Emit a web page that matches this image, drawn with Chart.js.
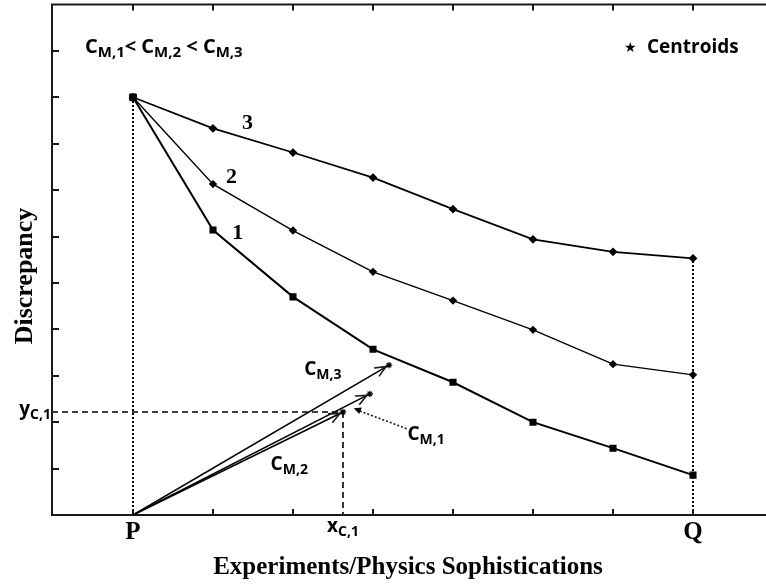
<!DOCTYPE html>
<html>
<head>
<meta charset="utf-8">
<script src="https://cdn.jsdelivr.net/npm/chart.js@4/dist/chart.umd.min.js"></script>
<style>
  html, body { margin: 0; padding: 0; background: #ffffff; }
  #wrap { width: 766px; height: 588px; }
</style>
</head>
<body>
<div id="wrap"><canvas id="chart" width="766" height="588"></canvas></div>
<script>
// Stages along the horizontal axis (P = 0 ... Q = 7)
const steps = [0, 1, 2, 3, 4, 5, 6, 7];
const endLabels = ['P', 'Q'];

// Discrepancy of the three model curves
const curve1 = [9.0, 6.14, 4.70, 3.57, 2.86, 2.00, 1.44, 0.86];
const curve2 = [9.0, 7.13, 6.13, 5.24, 4.62, 3.99, 3.25, 3.02];
const curve3 = [9.0, 8.33, 7.81, 7.27, 6.59, 5.94, 5.67, 5.53];

// Centroids reached by the C_M vectors (index 0 -> C_M,1 ...)
const centroidX = [2.625, 2.96, 3.20];
const centroidY = [2.22, 2.61, 3.23];

// Axis tick values (unlabelled)
const xTicks = [0, 1, 2, 3, 4, 5, 6, 7];
const yTicks = [1, 2, 3, 4, 5, 6, 7, 8, 9, 10];

const X_MIN = -1.0125, X_MAX = 7.9125, Y_MIN = 0, Y_MAX = 11;

const pts = (xs, ys) => xs.map((x, i) => ({ x: x, y: ys[i] }));

const black = '#000000';

const datasets = [
  { data: pts(steps, curve1), borderColor: black, backgroundColor: black, borderWidth: 2,
    pointStyle: 'rect', pointRadius: 3.6, tension: 0 },
  { data: pts(steps, curve2), borderColor: black, backgroundColor: black, borderWidth: 1.4,
    pointStyle: 'rectRot', pointRadius: 3.2, tension: 0 },
  { data: pts(steps, curve3), borderColor: black, backgroundColor: black, borderWidth: 1.7,
    pointStyle: 'rectRot', pointRadius: 3.2, tension: 0 },
  // common starting point
  { data: [{ x: steps[0], y: curve1[0] }], borderColor: black, backgroundColor: black,
    pointStyle: 'rect', pointRadius: 4.6, showLine: false },
  // dotted drop lines at P and Q
  { data: [{ x: steps[0], y: Y_MIN }, { x: steps[0], y: curve1[0] }], borderColor: black,
    borderWidth: 2, borderDash: [2, 2], pointRadius: 0 },
  { data: [{ x: steps[7], y: Y_MIN }, { x: steps[7], y: curve3[7] }], borderColor: black,
    borderWidth: 2, borderDash: [2, 2], pointRadius: 0 },
  // dashed projection of centroid 1 onto both axes
  { data: [{ x: X_MIN, y: centroidY[0] }, { x: centroidX[0], y: centroidY[0] }], borderColor: black,
    borderWidth: 1.6, borderDash: [6, 4], pointRadius: 0 },
  { data: [{ x: centroidX[0], y: centroidY[0] }, { x: centroidX[0], y: Y_MIN }], borderColor: black,
    borderWidth: 1.6, borderDash: [6, 4], pointRadius: 0 },
  // vector shafts from P
  ...centroidX.map((cx, i) => ({
    data: [{ x: steps[0], y: Y_MIN }, { x: cx, y: centroidY[i] }], borderColor: black,
    borderWidth: 1.6, pointRadius: 0
  })),
  // centroid markers
  { data: pts(centroidX, centroidY), borderColor: black, backgroundColor: black, borderWidth: 1.2,
    pointStyle: 'star', pointRadius: 3.2, showLine: false }
];

function sub(ctx, x, y, main, subscript, mainFont, subFont, align) {
  ctx.font = mainFont;
  const w1 = ctx.measureText(main).width;
  ctx.font = subFont;
  const w2 = ctx.measureText(subscript).width;
  let x0 = x;
  if (align === 'center') x0 = x - (w1 + w2) / 2;
  else if (align === 'right') x0 = x - (w1 + w2);
  ctx.textAlign = 'left';
  ctx.textBaseline = 'alphabetic';
  ctx.font = mainFont;
  ctx.fillText(main, x0, y);
  ctx.font = subFont;
  ctx.fillText(subscript, x0 + w1, y + 4);
  return x0 + w1 + w2;
}

function arrowHead(ctx, x0, y0, x1, y1, len, spread, filled) {
  const a = Math.atan2(y1 - y0, x1 - x0);
  const p1 = [x1 - len * Math.cos(a - spread), y1 - len * Math.sin(a - spread)];
  const p2 = [x1 - len * Math.cos(a + spread), y1 - len * Math.sin(a + spread)];
  ctx.beginPath();
  if (filled) {
    ctx.moveTo(x1, y1); ctx.lineTo(p1[0], p1[1]); ctx.lineTo(p2[0], p2[1]); ctx.closePath(); ctx.fill();
  } else {
    ctx.moveTo(p1[0], p1[1]); ctx.lineTo(x1, y1); ctx.lineTo(p2[0], p2[1]); ctx.stroke();
  }
}

const decor = {
  id: 'decor',
  afterDatasetsDraw(chart) {
    const ctx = chart.ctx;
    const xs = chart.scales.x, ys = chart.scales.y;
    const a = chart.chartArea;
    const px = v => xs.getPixelForValue(v), py = v => ys.getPixelForValue(v);
    ctx.save();
    ctx.strokeStyle = '#1a1a1a';
    ctx.fillStyle = black;

    // frame: left, top, bottom (open on the right)
    ctx.lineWidth = 2;
    ctx.beginPath();
    ctx.moveTo(a.right, a.top); ctx.lineTo(a.left, a.top); ctx.lineTo(a.left, a.bottom);
    ctx.lineTo(a.right, a.bottom);
    ctx.stroke();

    // inward tick marks
    ctx.lineWidth = 2;
    ctx.beginPath();
    xTicks.forEach(v => {
      const x = Math.round(px(v));
      ctx.moveTo(x, a.bottom); ctx.lineTo(x, a.bottom - 6);
      ctx.moveTo(x, a.top); ctx.lineTo(x, a.top + 6);
    });
    yTicks.forEach(v => {
      const y = Math.round(py(v));
      ctx.moveTo(a.left, y); ctx.lineTo(a.left + 7, y);
    });
    ctx.stroke();

    // vector arrow heads
    ctx.lineWidth = 1.6;
    centroidX.forEach((cx, i) => {
      const x1 = px(cx) - 3, y1 = py(centroidY[i]) + 1.5;
      arrowHead(ctx, px(steps[0]), py(Y_MIN), x1, y1, 12, 0.42, false);
    });

    // dotted pointer from the C_M,1 label
    const fx = px(3.42), fy = py(1.86), tx = px(2.76), ty = py(2.30);
    ctx.save();
    ctx.lineWidth = 1.6;
    ctx.setLineDash([2, 2]);
    ctx.beginPath(); ctx.moveTo(fx, fy); ctx.lineTo(tx + 4, ty + 2); ctx.stroke();
    ctx.restore();
    arrowHead(ctx, fx, fy, tx, ty, 8, 0.45, true);

    const serif = '"Liberation Serif", "Times New Roman", serif';
    const sans = '"Open Sans", "Noto Sans", sans-serif';

    // curve numbers
    ctx.font = 'bold 22px ' + serif;
    ctx.textAlign = 'center';
    ctx.textBaseline = 'middle';
    ctx.fillText('3', px(1.43), py(8.43));
    ctx.fillText('2', px(1.23), py(7.27));
    ctx.fillText('1', px(1.31), py(6.06));

    // P and Q
    ctx.font = 'bold 25px ' + serif;
    ctx.fillText(endLabels[0], px(steps[0]), a.bottom + 18);
    ctx.fillText(endLabels[1], px(steps[7]), a.bottom + 18);

    // sans labels
    const mainF = 'bold 19px ' + sans;
    const subF = 'bold 14px ' + sans;
    sub(ctx, px(centroidX[0]), a.bottom + 17, 'x', 'C,1', mainF, subF, 'center');
    sub(ctx, a.left - 1, py(centroidY[0]) + 3, 'y', 'C,1', mainF, subF, 'right');
    sub(ctx, px(2.14), py(3.02), 'C', 'M,3', mainF, subF, 'left');
    sub(ctx, px(1.72), py(0.96), 'C', 'M,2', mainF, subF, 'left');
    sub(ctx, px(3.43), py(1.62), 'C', 'M,1', mainF, subF, 'left');

    // ordering statement
    const relF = 'bold 20px ' + sans;
    const relSubF = 'bold 15px ' + sans;
    let x = px(-0.6);
    const yTop = 53;
    x = sub(ctx, x, yTop, 'C', 'M,1', relF, relSubF, 'left');
    ctx.font = relF; ctx.fillText('< ', x, yTop); x += ctx.measureText('< ').width;
    x = sub(ctx, x, yTop, 'C', 'M,2', relF, relSubF, 'left');
    ctx.font = relF; ctx.fillText(' < ', x, yTop); x += ctx.measureText(' < ').width;
    sub(ctx, x, yTop, 'C', 'M,3', relF, relSubF, 'left');

    // centroid key
    ctx.font = '14px "DejaVu Sans", sans-serif';
    ctx.fillText('\u2605', 624, yTop - 1);
    ctx.font = mainF;
    ctx.fillText('Centroids', 647, yTop);

    // axis titles
    ctx.font = 'bold 25px ' + serif;
    ctx.textAlign = 'center';
    ctx.textBaseline = 'middle';
    ctx.fillText('Experiments/Physics Sophistications', 408, 568);
    ctx.save();
    ctx.translate(25, 276);
    ctx.rotate(-Math.PI / 2);
    ctx.font = 'bold 26px ' + serif;
    ctx.fillText('Discrepancy', 0, 0);
    ctx.restore();

    ctx.restore();
  }
};

new Chart(document.getElementById('chart'), {
  type: 'line',
  data: { datasets: datasets },
  options: {
    responsive: false,
    animation: false,
    devicePixelRatio: 1,
    layout: { autoPadding: false, padding: { left: 52, top: 4.5, right: 0, bottom: 73 } },
    plugins: { legend: { display: false }, tooltip: { enabled: false } },
    scales: {
      x: { type: 'linear', min: X_MIN, max: X_MAX, display: false },
      y: { type: 'linear', min: Y_MIN, max: Y_MAX, display: false }
    },
    elements: { line: { tension: 0 } }
  },
  plugins: [decor]
});
</script>
</body>
</html>
